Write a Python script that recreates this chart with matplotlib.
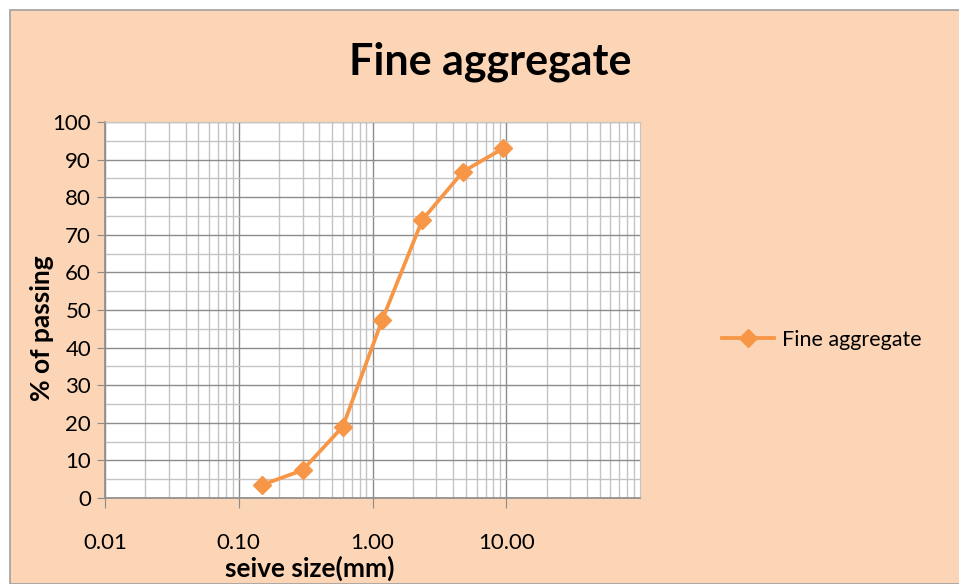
import matplotlib
matplotlib.use("Agg")
import matplotlib.pyplot as plt
from matplotlib.patches import Rectangle
from matplotlib.ticker import LogLocator, FixedLocator, NullFormatter, MultipleLocator

# Data
sieve_size_mm = [0.15, 0.3, 0.6, 1.18, 2.36, 4.75, 9.5]
percent_passing = [3.5, 7.4, 19.0, 47.3, 74.0, 86.8, 93.0]
series_name = "Fine aggregate"
title = "Fine aggregate"
x_ticks = [0.01, 0.1, 1, 10]
x_tick_labels = ["0.01", "0.10", "1.00", "10.00"]
y_ticks = list(range(0, 101, 10))

plt.rcParams['font.family'] = ['Lato', 'DejaVu Sans']

BG = "#FBD5B5"
ORANGE = "#F79646"

fig = plt.figure(figsize=(9.59, 5.84), dpi=100)
fig.patch.set_facecolor("white")
fig.patches.append(Rectangle((10/959, 0), 1, 1 - 10/584, transform=fig.transFigure,
                             facecolor=BG, edgecolor="#A0A0A0", linewidth=1.2, zorder=-10))

ax = fig.add_axes([105/959, 1 - 498/584, 535/959, 376/584])
ax.set_facecolor("white")
ax.plot(sieve_size_mm, percent_passing, color=ORANGE, linewidth=2.7,
        marker="D", markersize=9.5, markerfacecolor=ORANGE, markeredgecolor=ORANGE,
        label=series_name, zorder=5, clip_on=False)

ax.set_xscale("log")
ax.set_xlim(0.01, 100)
ax.set_ylim(0, 100)
ax.xaxis.set_major_locator(FixedLocator(x_ticks))
ax.set_xticklabels(x_tick_labels)
ax.xaxis.set_minor_locator(LogLocator(base=10, subs=[2, 3, 4, 5, 6, 7, 8, 9], numticks=20))
ax.xaxis.set_minor_formatter(NullFormatter())
ax.set_yticks(y_ticks)
ax.yaxis.set_minor_locator(MultipleLocator(5))

ax.grid(which="major", color="#8C8C8C", linewidth=1.0)
ax.grid(which="minor", color="#C4C4C4", linewidth=1.0)
ax.set_axisbelow(True)

for s in ["top", "right"]:
    ax.spines[s].set_color("#C4C4C4")
for s in ["left", "bottom"]:
    ax.spines[s].set_color("#8C8C8C")
    ax.spines[s].set_linewidth(1.2)

ax.tick_params(axis="both", which="minor", length=0)
ax.tick_params(axis="y", which="major", length=6, color="#8C8C8C", labelsize=16, pad=4)
ax.tick_params(axis="x", which="major", length=7, color="#8C8C8C", labelsize=16, pad=18)

fig.text(490/959, 1 - 62/584, title, ha="center", va="center", fontsize=31, fontweight="bold")
fig.text(42/959, 1 - 328/584, "% of passing", rotation=90, ha="center", va="center",
         fontsize=19, fontweight="bold")
fig.text(310/959, 1 - 568/584, "seive size(mm)", ha="center", va="center",
         fontsize=19, fontweight="bold")

fig.legend(loc="center left", bbox_to_anchor=(703/959, 1 - 340/584), frameon=False,
           fontsize=15.5, handlelength=2.4, handletextpad=0.35)

fig.savefig("out.png", dpi=100, facecolor=fig.get_facecolor())
